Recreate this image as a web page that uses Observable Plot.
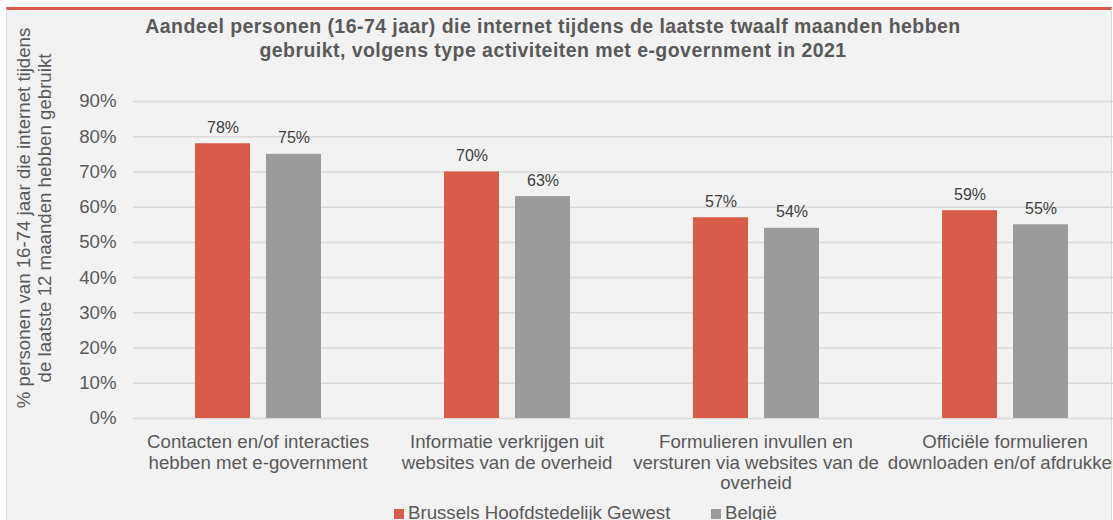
<!DOCTYPE html>
<html>
<head>
<meta charset="utf-8">
<script src="https://cdn.jsdelivr.net/npm/d3@7"></script>
<script src="https://cdn.jsdelivr.net/npm/@observablehq/plot@0.6"></script>
<style>
  html, body { margin: 0; padding: 0; background: #ffffff; overflow: hidden; }
  #page { position: relative; width: 1113px; height: 520px; overflow: hidden; font-family: "Liberation Sans", Arial, sans-serif; }
  #frame { position: absolute; left: 6px; top: 7px; width: 1104px; height: 520px; background: #f2f2f2; border-top: 3px solid #d9594a; border-left: 1px solid #d9d9d9; border-right: 1px solid #d9d9d9; }
  #chart { position: absolute; left: 0; top: 0; }
  #title { position: absolute; left: 0; top: 13.5px; width: 1106px; text-align: center; font-weight: bold; font-size: 19.5px; letter-spacing: 0.45px; line-height: 24px; color: #595959; }
  #ylabel { position: absolute; left: -176px; top: 197px; width: 420px; height: 42px; text-align: center; font-size: 18.67px; line-height: 21px; color: #595959; transform: rotate(-90deg); transform-origin: center center; white-space: nowrap; }
  #legend { position: absolute; top: 503px; left: 0; font-size: 18.67px; line-height: 20px; color: #595959; }
  .item { position: absolute; white-space: nowrap; }
  .sw { display: inline-block; width: 10px; height: 10px; margin-right: 4px; vertical-align: baseline; }
</style>
</head>
<body>
<div id="page">
  <div id="frame"></div>
  <div id="chart"></div>
  <div id="title"></div>
  <div id="ylabel"></div>
  <div id="legend"></div>
</div>
<script>
const titleLines = ["Aandeel personen (16-74 jaar) die internet tijdens de laatste twaalf maanden hebben", "gebruikt, volgens type activiteiten met e-government in 2021"];
const yLabelLines = ["% personen van 16-74 jaar die internet tijdens", "de laatste 12 maanden hebben gebruikt"];
const categories = [
  "Contacten en/of interacties\nhebben met e-government",
  "Informatie verkrijgen uit\nwebsites van de overheid",
  "Formulieren invullen en\nversturen via websites van de\noverheid",
  "Officiële formulieren\ndownloaden en/of afdrukken"
];
const series = ["Brussels Hoofdstedelijk Gewest", "België"];
const brussels = [0.78, 0.70, 0.57, 0.59];
const belgie = [0.75, 0.63, 0.54, 0.55];
const yTicks = [0, 0.1, 0.2, 0.3, 0.4, 0.5, 0.6, 0.7, 0.8, 0.9];
const colors = ["#d95b4a", "#9b9b9b"];

const rows = categories.flatMap((c, i) => [
  {category: c, series: series[0], value: brussels[i]},
  {category: c, series: series[1], value: belgie[i]}
]);
const pct = v => Math.round(v * 100) + "%";

const chart = Plot.plot({
  width: 1129,
  height: 500,
  marginTop: 101,
  marginBottom: 82,
  marginLeft: 133,
  marginRight: 0,
  style: {background: "transparent", maxWidth: "none", overflow: "visible", fontFamily: "'Liberation Sans', Arial, sans-serif", fontSize: "18.67px", color: "#595959"},
  fx: {domain: categories, padding: 0, axis: null, label: null},
  x: {domain: series, paddingInner: 0.2254, paddingOuter: 0.866, axis: null, label: null},
  y: {domain: [0, 0.9], ticks: yTicks, tickFormat: pct, tickSize: 0, tickPadding: 17, label: null},
  color: {domain: series, range: colors},
  marks: [
    Plot.ruleY(yTicks, {stroke: "#d9d9d9", strokeWidth: 1.5}),
    Plot.barY(rows, {fx: "category", x: "series", y: "value", fill: "series"}),
    Plot.text(rows, {fx: "category", x: "series", y: "value", text: d => pct(d.value), dy: -11, lineAnchor: "bottom", fontSize: 16, fill: "#404040"}),
    Plot.text(categories, {fx: d => d, text: d => d, frameAnchor: "bottom", lineAnchor: "top", dy: 14.7, lineHeight: 1.11, fontSize: 18.67, fill: "#595959"})
  ]
});
document.getElementById("chart").appendChild(chart);

document.getElementById("title").innerHTML = titleLines.join("<br>");
document.getElementById("ylabel").innerHTML = yLabelLines.join("<br>");
const legendLefts = [394, 711];
const legend = document.getElementById("legend");
series.forEach((s, i) => {
  const item = document.createElement("div");
  item.className = "item";
  item.style.left = legendLefts[i] + "px";
  item.innerHTML = `<span class="sw" style="background:${colors[i]}"></span>${s}`;
  legend.appendChild(item);
});
</script>
</body>
</html>
